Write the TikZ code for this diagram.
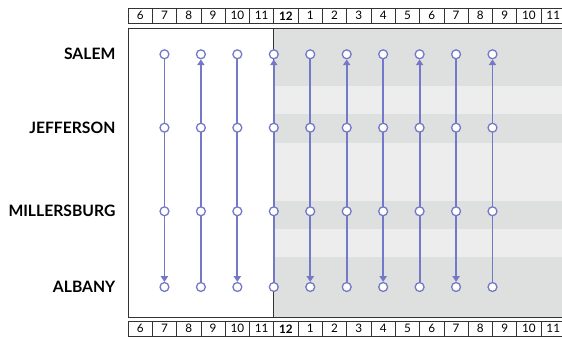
\documentclass[tikz,border=0pt]{standalone}
\usepackage{fontspec}
\setmainfont{Lato}
\usetikzlibrary{arrows.meta, backgrounds}
\definecolor{tripblue}{HTML}{7379C6}
\definecolor{banddark}{HTML}{DEDFDF}
\definecolor{bandlight}{HTML}{EDEDED}
\definecolor{framegray}{HTML}{333333}

\begin{document}
\begin{tikzpicture}[x=0.3mm, y=0.3mm,
    stop/.style={circle, draw=tripblue, fill=white, line width=1.1pt, inner sep=0pt, minimum size=7.6pt},
    trip/.style={-{Triangle[length=5pt, width=6.2pt]}, line width=1.6pt, tripblue},
    town/.style={anchor=east, font=\bfseries\fontsize{13.4}{15}\selectfont},
    hour/.style={rectangle, draw=framegray, line width=0.6pt, fill=white, minimum width=7.29mm, minimum height=4.35mm, inner sep=0pt, font=\fontsize{10}{11}\selectfont},
    frame/.style={draw=framegray, line width=0.7pt},
  ]
  \clip (0,0) rectangle (562,339);

  % hour strips, top and bottom
  \foreach \h [count=\k from 0] in {6,7,8,9,10,11,{\bfseries 12},1,2,3,4,5,6,7,8,9,10,11} {
    \node[hour] (top\k) at (140.15+24.3*\k, 323.25) {\h};
    \node[hour] (bot\k) at (140.15+24.3*\k, 10.25) {\h};
  }

  % towns
  \node[town] (salem) at (119.5, 284.7) {SALEM};
  \node[town] (jefferson) at (119.5, 211.3) {JEFFERSON};
  \node[town] (millersburg) at (119.5, 127.7) {MILLERSBURG};
  \node[town] (albany) at (119.5, 52) {ALBANY};

  % stops
  \foreach \c in {0,...,9} {
    \node[stop] (s\c) at (164.45+36.45*\c, 284.7) {};
    \node[stop] (j\c) at (164.45+36.45*\c, 211.3) {};
    \node[stop] (m\c) at (164.45+36.45*\c, 127.7) {};
    \node[stop] (a\c) at (164.45+36.45*\c, 52) {};
  }

  \begin{scope}[on background layer]
    % afternoon shading
    \fill[banddark] (273.8,21.5) rectangle (570,310.5);
    \fill[bandlight] (273.8,225) rectangle (570,253);
    \fill[bandlight] (273.8,138) rectangle (570,196);
    \fill[bandlight] (273.8,82) rectangle (570,110);
    \draw[frame] (570,310.5) -- (128,310.5) -- (128,21.5) -- (570,21.5);
    \draw[frame] (273.8,21.5) -- (273.8,310.5);

    % southbound and northbound runs
    \foreach \c in {0,2,4,6,8}
      \draw[trip] (s\c) -- (a\c);
    \foreach \c in {1,3,5,7,9}
      \draw[trip] (a\c) -- (s\c);
  \end{scope}
\end{tikzpicture}
\end{document}
